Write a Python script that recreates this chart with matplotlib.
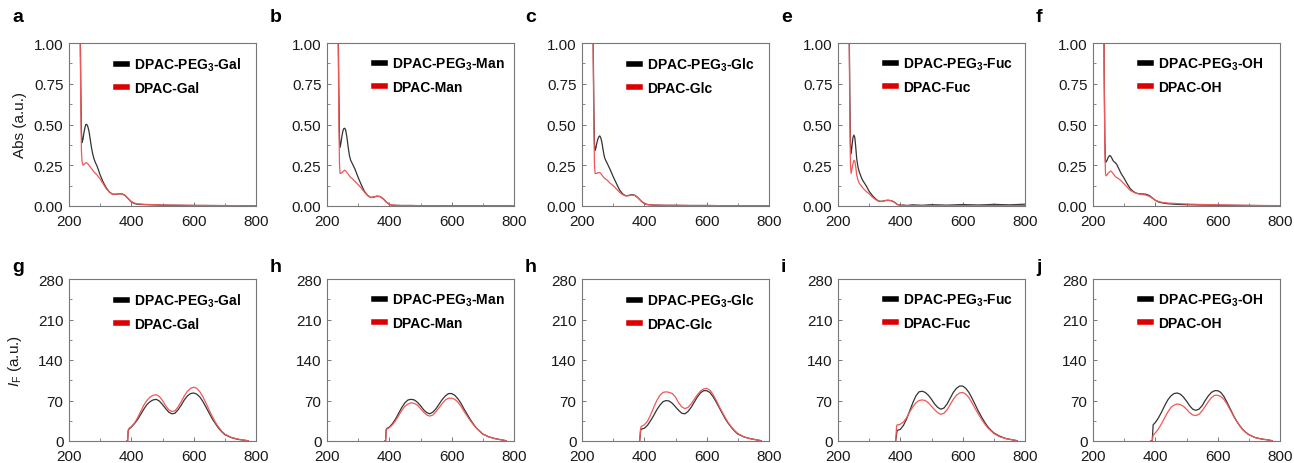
import matplotlib
matplotlib.use("Agg")
import matplotlib.pyplot as plt
from matplotlib.ticker import MultipleLocator, FormatStrFormatter

plt.rcParams['font.family'] = ['Liberation Sans', 'DejaVu Sans']
plt.rcParams['mathtext.fontset'] = 'custom'
plt.rcParams['mathtext.rm'] = 'Liberation Sans'
plt.rcParams['mathtext.it'] = 'Liberation Sans:italic'
plt.rcParams['mathtext.bf'] = 'Liberation Sans:bold'

# ---------------- data ----------------
top_letters = ['a', 'b', 'c', 'e', 'f']
bottom_letters = ['g', 'h', 'h', 'i', 'j']
sugars = ['Gal', 'Man', 'Glc', 'Fuc', 'OH']

wl_abs = [232, 234, 236, 238, 240, 242, 245, 248, 251, 254, 257, 260, 264, 268, 272, 276, 280, 285, 290,
          300, 310, 320, 330, 340, 350, 360, 370, 380, 390, 400, 410, 420, 440, 470, 500, 550, 600, 650,
          700, 750, 800]

abs_peg_gal = [2.0, 1.5, 1.1, 0.7, 0.45, 0.39, 0.41, 0.45, 0.48, 0.50, 0.50, 0.49, 0.46, 0.41, 0.36, 0.32,
               0.29, 0.265, 0.245, 0.19, 0.145, 0.11, 0.085, 0.072, 0.072, 0.075, 0.074, 0.065, 0.045, 0.025,
               0.015, 0.011, 0.009, 0.007, 0.005, 0.004, 0.003, 0.003, 0.002, 0.002, 0.001]
abs_gal = [2.0, 1.5, 1.0, 0.6, 0.33, 0.27, 0.25, 0.255, 0.26, 0.265, 0.265, 0.26, 0.25, 0.24, 0.23, 0.22,
           0.21, 0.2, 0.19, 0.165, 0.135, 0.105, 0.085, 0.072, 0.072, 0.075, 0.074, 0.065, 0.045, 0.027,
           0.018, 0.013, 0.01, 0.008, 0.006, 0.005, 0.004, 0.003, 0.003, 0.002, 0.002]

abs_peg_man = [2.0, 1.5, 1.1, 0.7, 0.42, 0.36, 0.39, 0.43, 0.46, 0.475, 0.477, 0.465, 0.42, 0.36, 0.31, 0.28,
               0.265, 0.245, 0.225, 0.175, 0.13, 0.09, 0.065, 0.052, 0.055, 0.06, 0.058, 0.045, 0.025, 0.01,
               0.005, 0.004, 0.003, 0.003, 0.002, 0.002, 0.001, 0.001, 0.001, 0.001, 0.0]
abs_man = [2.0, 1.5, 1.0, 0.55, 0.26, 0.2, 0.2, 0.205, 0.21, 0.215, 0.22, 0.215, 0.205, 0.195, 0.185, 0.175,
           0.17, 0.16, 0.15, 0.13, 0.11, 0.085, 0.065, 0.052, 0.055, 0.06, 0.058, 0.045, 0.025, 0.01,
           0.005, 0.004, 0.003, 0.003, 0.002, 0.002, 0.001, 0.001, 0.001, 0.001, 0.0]

abs_peg_glc = [2.0, 1.5, 1.0, 0.6, 0.38, 0.34, 0.36, 0.39, 0.41, 0.425, 0.43, 0.42, 0.39, 0.34, 0.3, 0.28,
               0.265, 0.245, 0.225, 0.18, 0.14, 0.1, 0.075, 0.063, 0.065, 0.07, 0.066, 0.05, 0.03, 0.015,
               0.009, 0.007, 0.005, 0.004, 0.004, 0.003, 0.003, 0.002, 0.002, 0.002, 0.002]
abs_glc = [2.0, 1.5, 0.9, 0.5, 0.25, 0.2, 0.2, 0.2, 0.205, 0.205, 0.205, 0.2, 0.19, 0.18, 0.17, 0.165,
           0.16, 0.15, 0.14, 0.125, 0.105, 0.085, 0.07, 0.062, 0.063, 0.068, 0.064, 0.05, 0.03, 0.015,
           0.009, 0.007, 0.005, 0.004, 0.004, 0.003, 0.003, 0.002, 0.002, 0.002, 0.002]

abs_peg_fuc = [2.0, 1.6, 1.1, 0.65, 0.38, 0.32, 0.37, 0.42, 0.435, 0.42, 0.36, 0.29, 0.24, 0.21, 0.19, 0.17,
               0.155, 0.14, 0.125, 0.09, 0.065, 0.045, 0.03, 0.028, 0.033, 0.035, 0.033, 0.025, 0.01, 0.004,
               0.006, 0.003, 0.007, 0.004, 0.008, 0.005, 0.009, 0.006, 0.01, 0.007, 0.011]
abs_fuc = [2.0, 1.5, 1.0, 0.55, 0.25, 0.2, 0.23, 0.26, 0.28, 0.275, 0.24, 0.19, 0.16, 0.14, 0.13, 0.12,
           0.11, 0.1, 0.09, 0.075, 0.055, 0.04, 0.03, 0.028, 0.033, 0.035, 0.033, 0.025, 0.01, 0.004,
           0.003, 0.003, 0.003, 0.003, 0.003, 0.003, 0.003, 0.003, 0.003, 0.003, 0.003]

abs_peg_oh = [2.0, 1.5, 0.8, 0.4, 0.27, 0.27, 0.28, 0.295, 0.305, 0.31, 0.305, 0.295, 0.28, 0.27, 0.265, 0.255,
              0.24, 0.22, 0.2, 0.17, 0.135, 0.105, 0.088, 0.078, 0.075, 0.074, 0.072, 0.065, 0.05, 0.035,
              0.025, 0.02, 0.014, 0.01, 0.008, 0.006, 0.005, 0.004, 0.003, 0.002, 0.002]
abs_oh = [2.0, 1.5, 0.8, 0.35, 0.2, 0.185, 0.19, 0.2, 0.205, 0.21, 0.215, 0.21, 0.2, 0.19, 0.18, 0.175,
          0.17, 0.163, 0.155, 0.135, 0.115, 0.095, 0.085, 0.077, 0.073, 0.07, 0.067, 0.06, 0.048, 0.036,
          0.028, 0.023, 0.018, 0.015, 0.012, 0.009, 0.007, 0.005, 0.004, 0.003, 0.002]

wl_fl = [385, 388, 390, 393, 400, 410, 420, 430, 440, 450, 460, 470, 480, 490, 500, 510, 520, 530, 540,
         550, 560, 570, 580, 590, 600, 610, 620, 630, 640, 650, 660, 670, 680, 690, 700, 720, 740, 760, 775]

fl_peg_gal = [0, 0, 18, 21, 24, 30, 37, 46, 55, 63, 68, 71, 72, 69, 63, 56, 50, 47, 48, 54, 62, 71, 78, 82,
              83, 81, 76, 68, 58, 48, 38, 30, 22, 16, 11, 6, 3, 1.5, 0.5]
fl_gal = [0, 0, 19, 22, 25, 31, 40, 51, 62, 70, 76, 79, 80, 77, 70, 61, 54, 51, 52, 59, 68, 78, 86, 91,
          93, 91, 85, 76, 65, 53, 42, 32, 24, 17, 12, 6.5, 3.5, 1.5, 0.5]

fl_peg_man = [0, 0, 20, 22, 24, 30, 38, 48, 58, 66, 71, 72, 71, 67, 61, 54, 49, 47, 50, 56, 64, 72, 78, 82,
              82, 79, 73, 65, 55, 46, 37, 29, 22, 17, 12, 7, 4, 2, 0.5]
fl_man = [0, 0, 18, 21, 23, 28, 35, 44, 53, 60, 64, 66, 65, 62, 56, 50, 45, 43, 45, 51, 58, 65, 71, 74,
          74, 72, 67, 60, 51, 43, 35, 28, 22, 17, 12, 7, 4, 2, 0.5]

fl_peg_glc = [0, 18, 20, 21, 22, 27, 35, 44, 54, 62, 68, 70, 69, 65, 59, 53, 48, 47, 51, 58, 67, 76, 83, 87,
              87, 84, 77, 68, 58, 48, 38, 30, 23, 17, 12, 7, 4, 2, 0.5]
fl_glc = [0, 22, 25, 26, 28, 34, 45, 58, 70, 79, 84, 85, 84, 82, 76, 66, 59, 56, 58, 64, 72, 80, 86, 90,
          91, 88, 81, 71, 60, 50, 40, 31, 24, 18, 13, 7, 4, 2, 0.5]

fl_peg_fuc = [0, 12, 18, 19, 20, 27, 38, 52, 66, 78, 85, 86, 84, 79, 72, 64, 58, 55, 57, 64, 74, 84, 91, 95,
              95, 91, 84, 74, 63, 52, 42, 33, 25, 19, 14, 8, 4, 2, 0.5]
fl_fuc = [0, 26, 28, 28, 29, 33, 40, 50, 59, 66, 70, 71, 70, 66, 60, 54, 49, 46, 48, 54, 63, 72, 79, 83,
          84, 81, 75, 66, 56, 47, 38, 30, 23, 18, 13, 7, 4, 2, 0.5]

fl_peg_oh = [0, 0, 0, 28, 32, 40, 50, 61, 71, 78, 82, 83, 81, 76, 69, 61, 55, 53, 55, 61, 70, 78, 84, 87,
             87, 84, 77, 67, 56, 45, 35, 27, 20, 15, 11, 6, 3.5, 2, 0.5]
fl_oh = [0, 0, 0, 10, 14, 21, 30, 40, 50, 58, 62, 64, 63, 60, 55, 49, 45, 44, 46, 52, 60, 68, 75, 79,
         79, 77, 72, 64, 54, 44, 35, 27, 20, 15, 11, 6, 3.5, 2, 0.5]

abs_peg = [abs_peg_gal, abs_peg_man, abs_peg_glc, abs_peg_fuc, abs_peg_oh]
abs_plain = [abs_gal, abs_man, abs_glc, abs_fuc, abs_oh]
fl_peg = [fl_peg_gal, fl_peg_man, fl_peg_glc, fl_peg_fuc, fl_peg_oh]
fl_plain = [fl_gal, fl_man, fl_glc, fl_fuc, fl_oh]

abs_yticks = [0, 0.25, 0.5, 0.75, 1.0]
fl_yticks = [0, 70, 140, 210, 280]
x_ticks = [200, 400, 600, 800]

# ---------------- style ----------------
BLACK_LINE = '#333333'
RED_LINE = '#f05858'
BLACK_HANDLE = '#000000'
RED_HANDLE = '#dd0000'
SPINE = '#777777'
TXT = '#1a1a1a'

W, H = 1294, 464
fig = plt.figure(figsize=(W / 100, H / 100), dpi=100)

lefts_px = [69, 327, 582, 838, 1093]
width_px = 187
top_row = (44, 207)
bot_row = (280, 442)


def make_ax(left, row):
    t, b = row
    return fig.add_axes([left / W, (H - b) / H, width_px / W, (b - t) / H])


def style(ax, yticks, fmt, ymax):
    ax.set_xlim(200, 800)
    ax.set_ylim(0, ymax)
    ax.set_xticks(x_ticks)
    ax.set_yticks(yticks)
    ax.yaxis.set_major_formatter(FormatStrFormatter(fmt))
    ax.xaxis.set_minor_locator(MultipleLocator(100))
    ax.yaxis.set_minor_locator(MultipleLocator(yticks[1] / 2))
    ax.tick_params(which='both', direction='in', color=SPINE, labelsize=11,
                   labelcolor=TXT)
    ax.tick_params(axis='x', pad=6)
    ax.tick_params(axis='y', pad=4)
    ax.tick_params(which='major', length=3, width=0.7)
    ax.tick_params(which='minor', length=2, width=0.6)
    for s in ax.spines.values():
        s.set_color(SPINE)
        s.set_linewidth(0.8)


def add_legend(ax, lab1, lab2):
    leg = ax.legend([lab1, lab2], loc='upper left', bbox_to_anchor=(0.185, 1.0),
                    frameon=False, handlelength=0.8, handletextpad=0.5, labelspacing=0.6,
                    prop={'weight': 'bold', 'size': 10})
    for h, c in zip(leg.legend_handles, [BLACK_HANDLE, RED_HANDLE]):
        h.set_linewidth(4)
        h.set_color(c)
    return leg


for i in range(5):
    ax = make_ax(lefts_px[i], top_row)
    ax.plot(wl_abs, abs_peg[i], color=BLACK_LINE, lw=0.9)
    ax.plot(wl_abs, abs_plain[i], color=RED_LINE, lw=0.9)
    style(ax, abs_yticks, '%.2f', 1.0)
    add_legend(ax, r'DPAC-PEG$_{\mathbf{3}}$-' + sugars[i], 'DPAC-' + sugars[i])
    if i == 0:
        ax.set_ylabel('Abs (a.u.)', fontsize=11, color=TXT, labelpad=5)
    fig.text((lefts_px[i] - 57) / W, 1 - 18 / H, top_letters[i], fontsize=14, fontweight='bold',
             ha='left', va='center')

    ax2 = make_ax(lefts_px[i], bot_row)
    ax2.plot(wl_fl, fl_peg[i], color=BLACK_LINE, lw=0.9)
    ax2.plot(wl_fl, fl_plain[i], color=RED_LINE, lw=0.9)
    style(ax2, fl_yticks, '%d', 280)
    add_legend(ax2, r'DPAC-PEG$_{\mathbf{3}}$-' + sugars[i], 'DPAC-' + sugars[i])
    if i == 0:
        ax2.set_ylabel(r'$I_{\mathrm{F}}$ (a.u.)', fontsize=11, color=TXT, labelpad=10)
    fig.text((lefts_px[i] - 57) / W, 1 - 268 / H, bottom_letters[i], fontsize=14, fontweight='bold',
             ha='left', va='center')

fig.savefig('out.png', dpi=100)
